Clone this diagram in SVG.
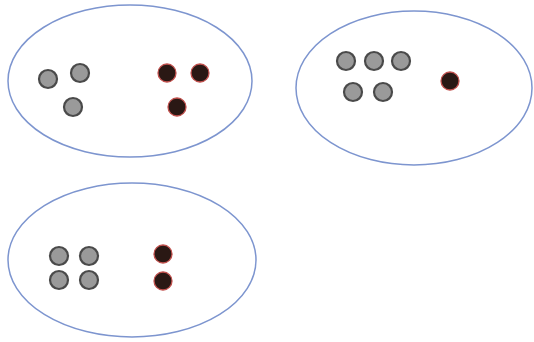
<svg xmlns="http://www.w3.org/2000/svg" width="534" height="342" viewBox="0 0 534 342">
<style>
.set{fill:#fff;stroke:#7d95cf;stroke-width:1.5}
.g{fill:#9a9a9a;stroke:#4a4a4a;stroke-width:2.2}
.d{fill:#2a1814;stroke:#c0504d;stroke-width:1.3}
</style>
<rect width="534" height="342" fill="#fff"/>
<g id="set1">
<ellipse class="set" cx="130" cy="81" rx="122" ry="76"/>
<circle class="g" cx="48" cy="79" r="9"/>
<circle class="g" cx="80" cy="73" r="9"/>
<circle class="g" cx="73" cy="107" r="9"/>
<circle class="d" cx="167" cy="73" r="9"/>
<circle class="d" cx="200" cy="73" r="9"/>
<circle class="d" cx="177" cy="107" r="9"/>
</g>
<g id="set2">
<ellipse class="set" cx="414" cy="88" rx="118" ry="77"/>
<circle class="g" cx="346" cy="61" r="9"/>
<circle class="g" cx="374" cy="61" r="9"/>
<circle class="g" cx="401" cy="61" r="9"/>
<circle class="g" cx="353" cy="92" r="9"/>
<circle class="g" cx="383" cy="92" r="9"/>
<circle class="d" cx="450" cy="81" r="9"/>
</g>
<g id="set3">
<ellipse class="set" cx="132" cy="260" rx="124" ry="77"/>
<circle class="g" cx="59" cy="256" r="9"/>
<circle class="g" cx="89" cy="256" r="9"/>
<circle class="g" cx="59" cy="280" r="9"/>
<circle class="g" cx="89" cy="280" r="9"/>
<circle class="d" cx="163" cy="254" r="9"/>
<circle class="d" cx="163" cy="281" r="9"/>
</g>
<g id="connectors"></g>
</svg>
